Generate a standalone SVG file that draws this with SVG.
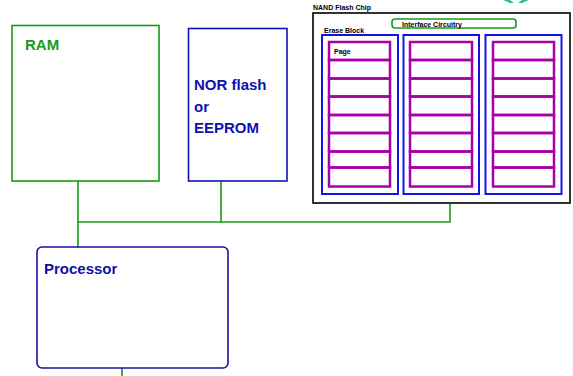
<svg xmlns="http://www.w3.org/2000/svg" width="573" height="376" viewBox="0 0 573 376">
<style>
.lbl{font-family:"Liberation Sans",Arial,sans-serif;font-weight:bold}
.big{font-size:15px}
.sm{font-size:7px;fill:#000}
.wire{stroke:#1a9a1a;stroke-width:1.6;fill:none}
.blk{fill:none;stroke:#1414e0;stroke-width:2}
.pg{fill:none;stroke:#a800a8;stroke-width:2.5}
</style>
<rect width="573" height="376" fill="#fff"/>
<g id="connectors">
<path class="wire" d="M78 181V247M221 181V222M78 222H450V204M122 368V376"/>
</g>
<g id="ram">
<rect x="12" y="25.5" width="147" height="155.5" fill="none" stroke="#1a9a1a" stroke-width="1.6"/>
<text class="lbl big" x="25" y="50" fill="#1a9a1a">RAM</text>
</g>
<g id="nor">
<rect x="188.5" y="28.5" width="98.5" height="152.5" fill="none" stroke="#1212b8" stroke-width="1.6"/>
<text class="lbl big" fill="#1010b0"><tspan x="194" y="90">NOR flash</tspan><tspan x="194" y="112">or</tspan><tspan x="194" y="133">EEPROM</tspan></text>
</g>
<g id="processor">
<rect x="37" y="247" width="191" height="121" rx="5" fill="none" stroke="#1212a8" stroke-width="1.6"/>
<text class="lbl big" x="44" y="274" fill="#1010a8">Processor</text>
</g>
<g id="deco">
<path d="M503 0H510L514 3H510Z M529 0H522L518 3H522Z" fill="#30c090"/>
</g>
<g id="nand">
<text class="lbl sm" x="313" y="10">NAND Flash Chip</text>
<rect x="313" y="13" width="257" height="190" fill="none" stroke="#000" stroke-width="1.6"/>
<g id="interface">
<rect x="392" y="19" width="124" height="9" rx="3" fill="none" stroke="#1a9a1a" stroke-width="1.6"/>
<text class="lbl sm" x="402" y="27">Interface Circuitry</text>
</g>
<text class="lbl sm" x="324" y="33">Erase Block</text>
<g id="block1">
<rect class="blk" x="322" y="35" width="76" height="159"/>
<rect class="pg" x="329" y="42" width="61" height="18"/>
<rect class="pg" x="329" y="60" width="61" height="18.5"/>
<rect class="pg" x="329" y="78.5" width="61" height="18"/>
<rect class="pg" x="329" y="96.5" width="61" height="18.5"/>
<rect class="pg" x="329" y="115" width="61" height="18"/>
<rect class="pg" x="329" y="133" width="61" height="18.5"/>
<rect class="pg" x="329" y="151.5" width="61" height="16"/>
<rect class="pg" x="329" y="167.5" width="61" height="19"/>
<text class="lbl sm" x="334" y="54">Page</text>
</g>
<g id="block2">
<rect class="blk" x="403.5" y="35" width="75.5" height="159"/>
<rect class="pg" x="410" y="42" width="62" height="18"/>
<rect class="pg" x="410" y="60" width="62" height="18.5"/>
<rect class="pg" x="410" y="78.5" width="62" height="18"/>
<rect class="pg" x="410" y="96.5" width="62" height="18.5"/>
<rect class="pg" x="410" y="115" width="62" height="18"/>
<rect class="pg" x="410" y="133" width="62" height="18.5"/>
<rect class="pg" x="410" y="151.5" width="62" height="16"/>
<rect class="pg" x="410" y="167.5" width="62" height="19"/>
</g>
<g id="block3">
<rect class="blk" x="485.5" y="35" width="76" height="159"/>
<rect class="pg" x="493" y="42" width="61" height="18"/>
<rect class="pg" x="493" y="60" width="61" height="18.5"/>
<rect class="pg" x="493" y="78.5" width="61" height="18"/>
<rect class="pg" x="493" y="96.5" width="61" height="18.5"/>
<rect class="pg" x="493" y="115" width="61" height="18"/>
<rect class="pg" x="493" y="133" width="61" height="18.5"/>
<rect class="pg" x="493" y="151.5" width="61" height="16"/>
<rect class="pg" x="493" y="167.5" width="61" height="19"/>
</g>
</g>
</svg>
